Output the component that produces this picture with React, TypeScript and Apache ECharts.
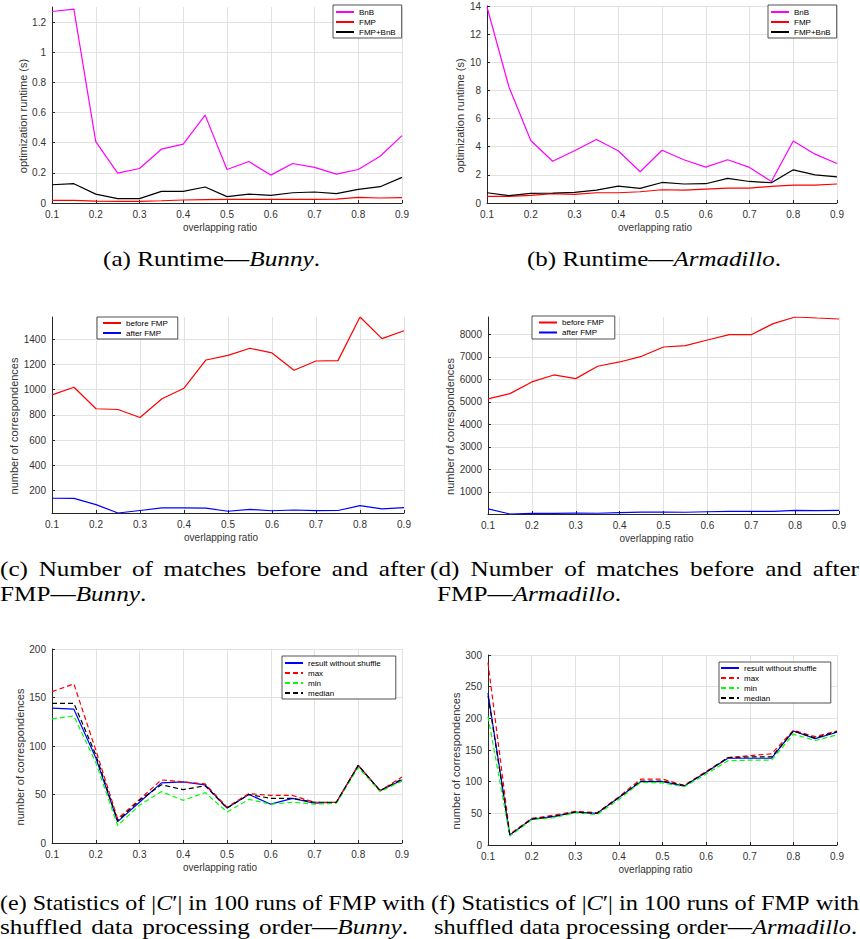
import React, { useEffect, useRef } from "react";
import * as echarts from "echarts";

// ---------------- data ----------------
const ratios = [0.1, 0.15, 0.2, 0.25, 0.3, 0.35, 0.4, 0.45, 0.5, 0.55, 0.6, 0.65, 0.7, 0.75, 0.8, 0.85, 0.9];

// (a) runtime - Bunny (s)
const bunnyBnB = [1.27, 1.286, 0.407, 0.198, 0.229, 0.357, 0.39, 0.583, 0.222, 0.275, 0.185, 0.262, 0.236, 0.192, 0.222, 0.31, 0.447];
const bunnyFMP = [0.018, 0.018, 0.013, 0.011, 0.011, 0.015, 0.02, 0.022, 0.024, 0.024, 0.024, 0.024, 0.024, 0.026, 0.037, 0.033, 0.035];
const bunnyFMPBnB = [0.121, 0.128, 0.059, 0.029, 0.029, 0.077, 0.077, 0.106, 0.042, 0.059, 0.051, 0.068, 0.073, 0.062, 0.09, 0.108, 0.17];

// (b) runtime - Armadillo (s)
const armBnB = [13.93, 8.26, 4.44, 2.97, 3.71, 4.51, 3.71, 2.22, 3.75, 3.07, 2.55, 3.07, 2.53, 1.53, 4.41, 3.47, 2.81];
const armFMP = [0.47, 0.47, 0.54, 0.66, 0.61, 0.73, 0.73, 0.8, 0.94, 0.92, 0.99, 1.06, 1.06, 1.18, 1.27, 1.27, 1.35];
const armFMPBnB = [0.73, 0.52, 0.68, 0.71, 0.76, 0.92, 1.2, 1.04, 1.46, 1.35, 1.37, 1.75, 1.53, 1.44, 2.36, 2.0, 1.86];

// (c)/(d) correspondences before FMP
const bunnyBefore = [959, 1020, 849, 843, 780, 928, 1012, 1236, 1273, 1329, 1292, 1155, 1228, 1231, 1577, 1405, 1468];
const armBefore = [5129, 5366, 5884, 6195, 6032, 6580, 6772, 7023, 7438, 7497, 7749, 7985, 7985, 8474, 8770, 8725, 8681];

// (e) Bunny statistics (result without shuffle = after FMP)
const bunnyNoShuffle = [139, 138, 88, 22, 42, 62, 63, 60, 36, 50, 40, 46, 41, 42, 80, 54, 65];
const bunnyMax = [156, 164, 96, 25, 45, 65, 63, 61, 37, 51, 49, 49, 42, 42, 80, 54, 68];
const bunnyMin = [128, 131, 83, 18, 39, 53, 44, 52, 32, 45, 40, 42, 40, 41, 78, 53, 64];
const bunnyMedian = [144, 144, 91, 23, 44, 60, 55, 59, 36, 50, 46, 46, 42, 42, 80, 54, 66];

// (f) Armadillo statistics (result without shuffle = after FMP)
const armNoShuffle = [240, 16, 41, 45, 52, 50, 75, 100, 100, 93, 115, 137, 137, 137, 180, 168, 178];
const armMax = [288, 17, 42, 47, 53, 51, 76, 104, 104, 94, 116, 138, 141, 144, 181, 171, 180];
const armMin = [203, 14, 40, 43, 51, 48, 72, 99, 98, 92, 112, 133, 134, 134, 175, 165, 174];
const armMedian = [236, 16, 41, 45, 52, 50, 75, 101, 101, 94, 115, 138, 139, 139, 180, 169, 179];

const runtimeNames = ["BnB", "FMP", "FMP+BnB"];
const matchNames = ["before FMP", "after FMP"];
const statNames = ["result without shuffle", "max", "min", "median"];

// ---------------- styles ----------------
const SANS = '"Liberation Sans", Arial, Helvetica, sans-serif';
const SERIF = '"Liberation Serif", "DejaVu Serif", serif';
const AX = "#262626";
const TXT = "#333333";
const GRID = "#e2e2e2";
const MAGENTA = "#ff00ff";
const RED = "#ff0000";
const BLACK = "#000000";
const BLUE = "#0000ff";
const GREEN = "#00ff00";
const DASH = [5, 3];

const grids = [
  { left: 52, top: 7, width: 350, height: 196 },
  { left: 487, top: 6, width: 350, height: 197 },
  { left: 52, top: 317, width: 352, height: 196 },
  { left: 488, top: 317, width: 351, height: 197 },
  { left: 52, top: 649, width: 350, height: 194 },
  { left: 488, top: 655, width: 349, height: 190 },
];

function xAxis(i: number) {
  return {
    gridIndex: i,
    type: "value",
    min: 0.1,
    max: 0.9,
    interval: 0.1,
    name: "overlapping ratio",
    nameLocation: "middle",
    nameGap: 19,
    nameTextStyle: { fontSize: 10, color: TXT, fontFamily: SANS, padding: [0, 14, 0, 0] },
    axisLine: { show: true, onZero: false, lineStyle: { color: AX, width: 1 } },
    axisTick: { show: true, inside: true, length: 3, lineStyle: { color: AX } },
    axisLabel: { fontSize: 10, color: TXT, margin: 6, fontFamily: SANS },
    splitLine: { show: true, lineStyle: { color: GRID, width: 1 } },
  };
}

function yAxis(i: number, name: string, gap: number, extra: any) {
  return {
    gridIndex: i,
    type: "value",
    name,
    nameLocation: "middle",
    nameGap: gap,
    nameTextStyle: { fontSize: 11, color: TXT, fontFamily: SANS, padding: [0, 22, 0, 0] },
    axisLine: { show: true, onZero: false, lineStyle: { color: AX, width: 1 } },
    axisTick: { show: true, inside: true, length: 3, lineStyle: { color: AX } },
    axisLabel: {
      fontSize: 10,
      color: TXT,
      margin: 6,
      fontFamily: SANS,
      formatter: (v: number) => String(v),
      ...(extra.label || {}),
    },
    splitLine: { show: true, lineStyle: { color: GRID, width: 1 }, ...(extra.split || {}) },
    ...extra.range,
  };
}

function line(name: string, values: number[], color: string, idx: number, dashed = false) {
  return {
    type: "line",
    name,
    xAxisIndex: idx,
    yAxisIndex: idx,
    data: ratios.map((r, k) => [r, values[k]]),
    symbol: "none",
    showSymbol: false,
    silent: true,
    emphasis: { disabled: true },
    lineStyle: { color, width: 1.2, type: dashed ? DASH : "solid" },
    itemStyle: { color },
  };
}

function legend(names: string[], left: number, top: number, padding: number[]) {
  return {
    data: names,
    left,
    top,
    orient: "vertical",
    padding,
    itemWidth: 18,
    itemHeight: 8,
    itemGap: 0,
    selectedMode: false,
    backgroundColor: "#ffffff",
    borderColor: AX,
    borderWidth: 0.8,
    borderRadius: 0,
    itemStyle: { opacity: 0, borderWidth: 0 },
    textStyle: { fontSize: 8, lineHeight: 10, color: "#000", fontFamily: SANS },
  };
}

// ---------------- captions ----------------
type Run = { t: string; it?: boolean };
type CapLine = { words: Run[][]; x0: number; x1?: number; base: number };

const CAP_SIZE = 20;
const BASE_SX = 1.26;

function words(s: string): Run[][] {
  return s.split(" ").map((w) => [{ t: w }]);
}

const captionLines: CapLine[] = [
  { words: [[{ t: "(a)" }], [{ t: "Runtime—" }, { t: "Bunny", it: true }, { t: "." }]], x0: 103, x1: 320, base: 266 },
  { words: [[{ t: "(b)" }], [{ t: "Runtime—" }, { t: "Armadillo", it: true }, { t: "." }]], x0: 527, x1: 781, base: 266 },
  { words: words("(c) Number of matches before and after"), x0: 0, x1: 425, base: 576 },
  { words: [[{ t: "FMP—" }, { t: "Bunny", it: true }, { t: "." }]], x0: 0, base: 601.5 },
  { words: words("(d) Number of matches before and after"), x0: 430, x1: 859, base: 576 },
  { words: [[{ t: "FMP—" }, { t: "Armadillo", it: true }, { t: "." }]], x0: 437, base: 601.5 },
  {
    words: [
      [{ t: "(e)" }], [{ t: "Statistics" }], [{ t: "of" }],
      [{ t: "|" }, { t: "C", it: true }, { t: "′|" }],
      [{ t: "in" }], [{ t: "100" }], [{ t: "runs" }], [{ t: "of" }], [{ t: "FMP" }], [{ t: "with" }],
    ],
    x0: 0, x1: 425, base: 910,
  },
  {
    words: [...words("shuffled data processing"), [{ t: "order—" }, { t: "Bunny", it: true }, { t: "." }]],
    x0: 0, x1: 408, base: 934,
  },
  {
    words: [
      [{ t: "(f)" }], [{ t: "Statistics" }], [{ t: "of" }],
      [{ t: "|" }, { t: "C", it: true }, { t: "′|" }],
      [{ t: "in" }], [{ t: "100" }], [{ t: "runs" }], [{ t: "of" }], [{ t: "FMP" }], [{ t: "with" }],
    ],
    x0: 431, x1: 859, base: 910,
  },
  {
    words: [...words("shuffled data processing"), [{ t: "order—" }, { t: "Armadillo", it: true }, { t: "." }]],
    x0: 434, x1: 857, base: 934,
  },
];

function buildCaptions() {
  const canvas = document.createElement("canvas");
  const ctx = canvas.getContext("2d")!;
  const measure = (r: Run) => {
    ctx.font = `${r.it ? "italic " : ""}${CAP_SIZE}px ${SERIF}`;
    return ctx.measureText(r.t).width;
  };
  const space = CAP_SIZE * 0.25;
  const els: any[] = [];
  for (const ln of captionLines) {
    const ww = ln.words.map((w) => w.reduce((s, r) => s + measure(r), 0));
    const sum = ww.reduce((a, b) => a + b, 0);
    const n = ln.words.length;
    let sx = BASE_SX;
    let gap = space * sx;
    if (ln.x1 != null && n > 1) {
      const target = ln.x1 - ln.x0;
      const natural = (sum + space * (n - 1)) * sx;
      if (natural > target) {
        sx = target / (sum + space * (n - 1));
        gap = space * sx;
      } else {
        gap = (target - sum * sx) / (n - 1);
      }
    }
    let x = ln.x0;
    ln.words.forEach((w) => {
      w.forEach((r) => {
        els.push({
          type: "text",
          x,
          y: ln.base - 7,
          scaleX: sx,
          silent: true,
          style: {
            text: r.t,
            fill: "#000",
            fontSize: CAP_SIZE,
            fontFamily: SERIF,
            fontStyle: r.it ? "italic" : "normal",
            textAlign: "left",
            align: "left",
            textVerticalAlign: "middle",
            verticalAlign: "middle",
          },
        });
        x += measure(r) * sx;
      });
      x += gap;
    });
  }
  return els;
}

function buildOption() {
  const hideTop = { label: { showMaxLabel: false }, split: { showMaxLine: false } };
  const hideBoth = { label: { showMaxLabel: false, showMinLabel: false }, split: { showMaxLine: false } };
  return {
    animation: false,
    backgroundColor: "#ffffff",
    textStyle: { fontFamily: SANS },
    grid: grids.map((g) => ({ ...g, outerBoundsMode: "none", containLabel: false })),
    xAxis: [0, 1, 2, 3, 4, 5].map(xAxis),
    yAxis: [
      yAxis(0, "optimization runtime (s)", 21, { ...hideTop, range: { min: 0, max: 1.3, interval: 0.2 } }),
      yAxis(1, "optimization runtime (s)", 18, { range: { min: 0, max: 14, interval: 2 } }),
      yAxis(2, "number of correspondences", 31, { ...hideBoth, range: { min: "dataMin", max: "dataMax", minInterval: 200, maxInterval: 200 } }),
      yAxis(3, "number of correspondences", 31, { ...hideBoth, range: { min: "dataMin", max: "dataMax", minInterval: 1000, maxInterval: 1000 } }),
      yAxis(4, "number of correspondences", 23, { range: { min: 0, max: 200, interval: 50 } }),
      yAxis(5, "number of correspondences", 24, { range: { min: 0, max: 300, interval: 50 } }),
    ],
    legend: [
      legend(runtimeNames, 333, 5, [2, 6, 1, 2]),
      legend(runtimeNames, 768, 5, [2, 6, 1, 2]),
      legend(matchNames, 97, 317, [1, 10, 1, 5]),
      legend(matchNames, 532, 316, [1.5, 11, 1.5, 6]),
      legend(statNames, 282, 656, [2, 15, 1, 2]),
      legend(statNames, 719, 662, [1, 14, 0, 1]),
    ],
    series: [
      line("BnB", bunnyBnB, MAGENTA, 0),
      line("FMP", bunnyFMP, RED, 0),
      line("FMP+BnB", bunnyFMPBnB, BLACK, 0),
      line("BnB", armBnB, MAGENTA, 1),
      line("FMP", armFMP, RED, 1),
      line("FMP+BnB", armFMPBnB, BLACK, 1),
      line("before FMP", bunnyBefore, RED, 2),
      line("after FMP", bunnyNoShuffle, BLUE, 2),
      line("before FMP", armBefore, RED, 3),
      line("after FMP", armNoShuffle, BLUE, 3),
      line("result without shuffle", bunnyNoShuffle, BLUE, 4),
      line("max", bunnyMax, RED, 4, true),
      line("min", bunnyMin, GREEN, 4, true),
      line("median", bunnyMedian, BLACK, 4, true),
      line("result without shuffle", armNoShuffle, BLUE, 5),
      line("max", armMax, RED, 5, true),
      line("min", armMin, GREEN, 5, true),
      line("median", armMedian, BLACK, 5, true),
    ],
    graphic: buildCaptions(),
  };
}

export default function App() {
  const ref = useRef<HTMLDivElement>(null);
  useEffect(() => {
    if (!ref.current) return;
    const chart = echarts.init(ref.current, null, { renderer: "svg" });
    chart.setOption(buildOption() as any);
    return () => chart.dispose();
  }, []);
  return (
    <div
      ref={ref}
      style={{ position: "absolute", left: 0, top: 0, width: 860, height: 939, background: "#fff" }}
    />
  );
}
